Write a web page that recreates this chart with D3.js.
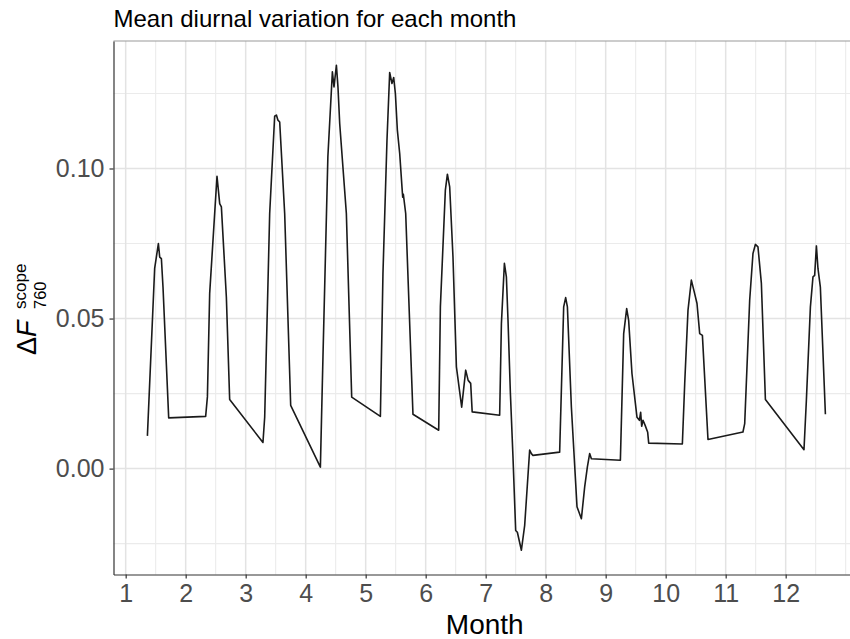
<!DOCTYPE html>
<html>
<head>
<meta charset="utf-8">
<script src="https://cdn.jsdelivr.net/npm/d3@7"></script>
<style>
  body { margin: 0; background: #fff; }
  svg { display: block; font-family: "Liberation Sans", Arial, sans-serif; }
</style>
</head>
<body>
<div id="chart"></div>
<script>
// mean diurnal curve, x = month + fraction of day
const monthPos = [
  1.362, 1.483, 1.545, 1.567, 1.595, 1.622, 1.717,
  2.333, 2.362, 2.400, 2.522, 2.567, 2.595, 2.678, 2.733,
  3.288, 3.317, 3.400, 3.483, 3.512, 3.538, 3.567, 3.650, 3.750,
  4.245, 4.288, 4.370, 4.445, 4.472, 4.512, 4.538, 4.567, 4.678, 4.767,
  5.245, 5.288, 5.355, 5.400, 5.438, 5.467, 5.495, 5.528, 5.567, 5.605, 5.617, 5.628, 5.667, 5.788,
  6.217, 6.245, 6.328, 6.362, 6.400, 6.455, 6.512, 6.600, 6.667, 6.708, 6.750, 6.775,
  7.233, 7.262, 7.312, 7.345, 7.372, 7.412, 7.455, 7.500, 7.528, 7.595, 7.650, 7.733, 7.762, 7.788,
  8.233, 8.300, 8.333, 8.362, 8.428, 8.522, 8.595, 8.650, 8.695, 8.733, 8.762,
  9.245, 9.300, 9.350, 9.383, 9.438, 9.522, 9.562, 9.583, 9.600, 9.622, 9.658, 9.700, 9.717,
  10.278, 10.317, 10.372, 10.428, 10.483, 10.522, 10.567, 10.612, 10.705,
  11.288, 11.317, 11.400, 11.455, 11.495, 11.538, 11.595, 11.662,
  12.305, 12.345, 12.412, 12.455, 12.483, 12.512, 12.538, 12.578, 12.662
];
const deltaF = [
  0.0109, 0.0667, 0.0750, 0.0705, 0.0700, 0.0605, 0.0169,
  0.0174, 0.0239, 0.0584, 0.0974, 0.0883, 0.0872, 0.0572, 0.0230,
  0.0087, 0.0172, 0.0850, 0.1174, 0.1178, 0.1161, 0.1155, 0.0850, 0.0211,
  0.0005, 0.0372, 0.1040, 0.1322, 0.1272, 0.1344, 0.1272, 0.1150, 0.0850, 0.0238,
  0.0174, 0.0650, 0.1094, 0.1320, 0.1283, 0.1303, 0.1250, 0.1128, 0.1050, 0.0938, 0.0904, 0.0914, 0.0850, 0.0181,
  0.0128, 0.0539, 0.0928, 0.0981, 0.0939, 0.0705, 0.0339, 0.0205, 0.0328, 0.0294, 0.0284, 0.0189,
  0.0178, 0.0483, 0.0684, 0.0639, 0.0495, 0.0250, 0.0039, -0.0206, -0.0212, -0.0272, -0.0189, 0.0062, 0.0050, 0.0044,
  0.0055, 0.0539, 0.0570, 0.0539, 0.0206, -0.0127, -0.0167, -0.0061, 0.0006, 0.0050, 0.0033,
  0.0028, 0.0450, 0.0533, 0.0494, 0.0317, 0.0171, 0.0161, 0.0188, 0.0141, 0.0161, 0.0144, 0.0121, 0.0085,
  0.0082, 0.0283, 0.0528, 0.0628, 0.0583, 0.0550, 0.0450, 0.0444, 0.0097,
  0.0122, 0.0150, 0.0561, 0.0717, 0.0747, 0.0739, 0.0617, 0.0230,
  0.0063, 0.0228, 0.0539, 0.0639, 0.0644, 0.0742, 0.0667, 0.0605, 0.0181
];

const xTicks = [1, 2, 3, 4, 5, 6, 7, 8, 9, 10, 11, 12];
const xMinor = [1.5, 2.5, 3.5, 4.5, 5.5, 6.5, 7.5, 8.5, 9.5, 10.5, 11.5, 12.5, 13];
const yTicks = [0, 0.05, 0.10];
const yMinor = [-0.025, 0.025, 0.075, 0.125];

const titleText = "Mean diurnal variation for each month";
const xTitle = "Month";

const width = 850, height = 639;
const panel = { left: 113.5, top: 41, bottom: 574.5 };
const pxPerMonth = 60;

const svg = d3.select("#chart").append("svg")
  .attr("width", width)
  .attr("height", height);

// ggplot style 5% expansion
const xExt = d3.extent(monthPos);
const xPad = (xExt[1] - xExt[0]) * 0.05;
const xDom = [xExt[0] - xPad, xExt[1] + xPad];
const x = d3.scaleLinear()
  .domain(xDom)
  .range([panel.left, panel.left + (xDom[1] - xDom[0]) * pxPerMonth]);

const yExt = d3.extent(deltaF);
const yPad = (yExt[1] - yExt[0]) * 0.05;
const y = d3.scaleLinear()
  .domain([yExt[0] - yPad, yExt[1] + yPad])
  .range([panel.bottom, panel.top]);

const panelRight = x.range()[1];

const grid = svg.append("g");
grid.selectAll(".xminor").data(xMinor).enter().append("line")
  .attr("x1", d => x(d)).attr("x2", d => x(d))
  .attr("y1", panel.top).attr("y2", panel.bottom)
  .attr("stroke", "#ebebeb").attr("stroke-width", 1.1);
grid.selectAll(".yminor").data(yMinor).enter().append("line")
  .attr("x1", panel.left).attr("x2", panelRight)
  .attr("y1", d => y(d)).attr("y2", d => y(d))
  .attr("stroke", "#ebebeb").attr("stroke-width", 1.1);
grid.selectAll(".xmajor").data(xTicks).enter().append("line")
  .attr("x1", d => x(d)).attr("x2", d => x(d))
  .attr("y1", panel.top).attr("y2", panel.bottom)
  .attr("stroke", "#e3e3e3").attr("stroke-width", 1.5);
grid.selectAll(".ymajor").data(yTicks).enter().append("line")
  .attr("x1", panel.left).attr("x2", panelRight)
  .attr("y1", d => y(d)).attr("y2", d => y(d))
  .attr("stroke", "#e3e3e3").attr("stroke-width", 1.5);

// top border of the panel
svg.append("line")
  .attr("x1", panel.left).attr("x2", panelRight)
  .attr("y1", panel.top).attr("y2", panel.top)
  .attr("stroke", "#9a9a9a").attr("stroke-width", 1.2);

// the curve
const line = d3.line()
  .x((d, i) => x(monthPos[i]))
  .y(d => y(d));

svg.append("path")
  .datum(deltaF)
  .attr("fill", "none")
  .attr("stroke", "#1a1a1a")
  .attr("stroke-width", 1.6)
  .attr("stroke-linejoin", "round")
  .attr("d", line);

// axes
const xAxis = svg.append("g")
  .attr("transform", `translate(0, ${panel.bottom})`)
  .call(d3.axisBottom(x).tickValues(xTicks).tickSize(4).tickSizeOuter(0).tickPadding(6).tickFormat(d3.format("d")));
xAxis.select(".domain").attr("stroke", "#333").attr("stroke-width", 1.2);
xAxis.selectAll(".tick line").attr("stroke", "#333").attr("stroke-width", 1.2);
xAxis.selectAll("text")
  .attr("fill", "#4d4d4d")
  .style("font-size", "25px")
  .style("font-family", "'Liberation Sans', Arial, sans-serif");

const yAxis = svg.append("g")
  .attr("transform", `translate(${panel.left}, 0)`)
  .call(d3.axisLeft(y).tickValues(yTicks).tickSize(4).tickSizeOuter(0).tickPadding(5).tickFormat(d3.format(".2f")));
yAxis.select(".domain").attr("stroke", "#333").attr("stroke-width", 1.2);
yAxis.selectAll(".tick line").attr("stroke", "#333").attr("stroke-width", 1.2);
yAxis.selectAll("text")
  .attr("fill", "#4d4d4d")
  .style("font-size", "25px")
  .style("font-family", "'Liberation Sans', Arial, sans-serif");

// titles
svg.append("text")
  .attr("x", panel.left)
  .attr("y", 27)
  .style("font-size", "24px")
  .attr("fill", "#000")
  .text(titleText);

svg.append("text")
  .attr("x", (panel.left + width) / 2 + 3)
  .attr("y", 634)
  .attr("text-anchor", "middle")
  .style("font-size", "28px")
  .attr("fill", "#000")
  .text(xTitle);

const yLab = svg.append("text")
  .attr("transform", "translate(36, 355) rotate(-90)")
  .attr("fill", "#000");
yLab.append("tspan").attr("x", 0).attr("y", 0).style("font-size", "27px").text("\u0394");
yLab.append("tspan").style("font-size", "27px").style("font-style", "italic").text("F");
yLab.append("tspan").attr("x", 46).attr("y", 10).style("font-size", "16.5px").text("760");
yLab.append("tspan").attr("x", 46).attr("y", -10).style("font-size", "17px").text("scope");
</script>
</body>
</html>
